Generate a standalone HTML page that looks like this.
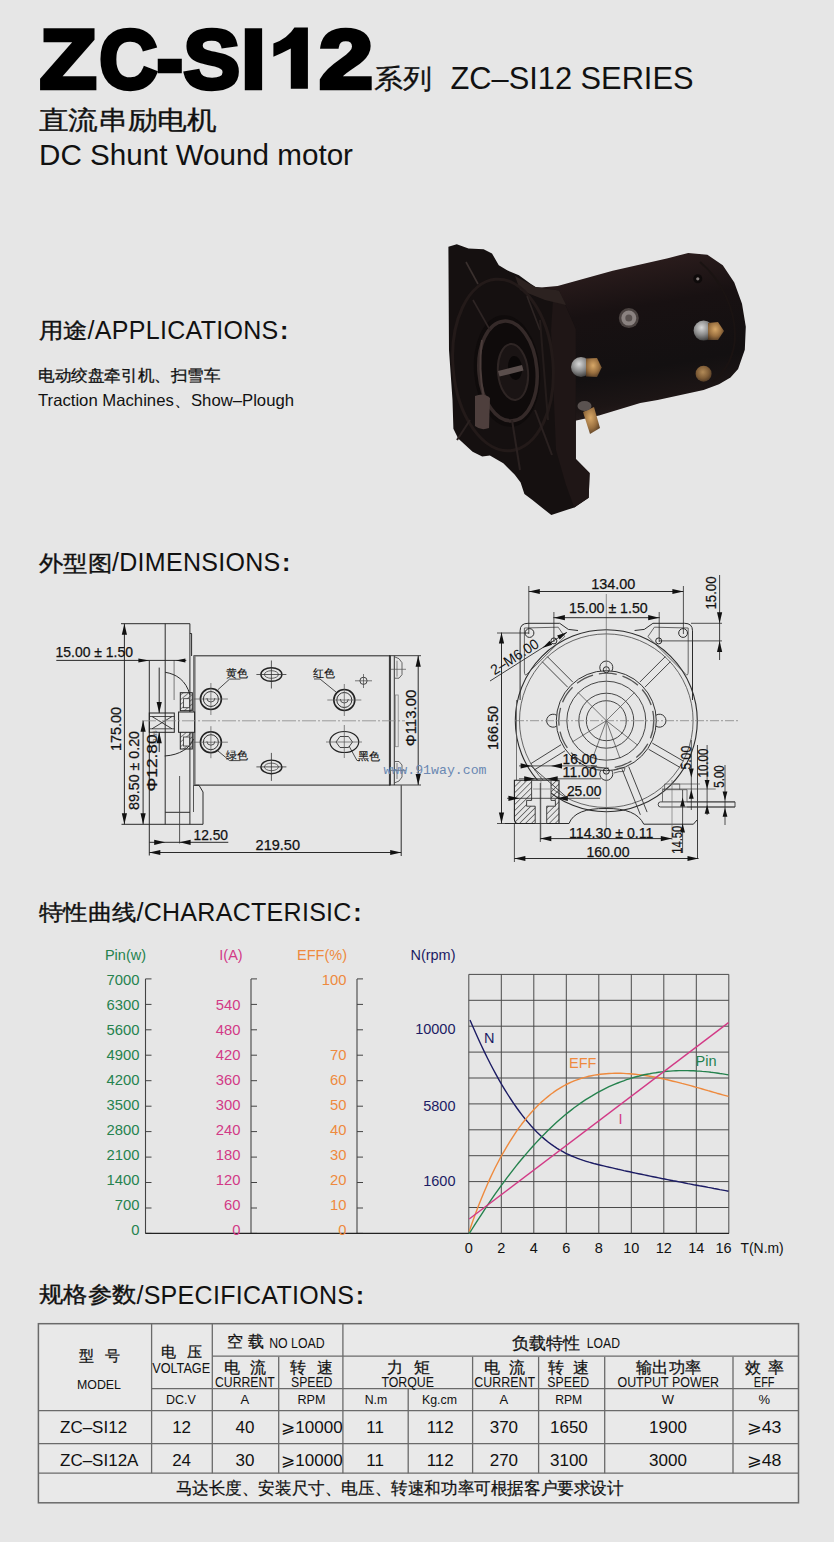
<!DOCTYPE html><html><head><meta charset="utf-8"><style>html,body{margin:0;padding:0;background:#e6e6e6;width:834px;height:1542px;overflow:hidden}svg{display:block}text{font-family:"Liberation Sans",sans-serif}</style></head><body>
<svg width="834" height="1542" viewBox="0 0 834 1542">
<text x="0" y="0" font-size="83" font-weight="bold" fill="#000" stroke="#000" stroke-width="4.4" stroke-linejoin="miter" transform="translate(39.70,87.6) scale(1.1216,1)">Z</text>
<text x="0" y="0" font-size="83" font-weight="bold" fill="#000" stroke="#000" stroke-width="4.4" stroke-linejoin="miter" transform="translate(99.13,87.6) scale(0.9695,1)">C</text>
<text x="0" y="0" font-size="83" font-weight="bold" fill="#000" stroke="#000" stroke-width="4.4" stroke-linejoin="miter" transform="translate(156.65,87.6) scale(0.9462,1)">-</text>
<text x="0" y="0" font-size="83" font-weight="bold" fill="#000" stroke="#000" stroke-width="4.4" stroke-linejoin="miter" transform="translate(183.40,87.6) scale(1.0204,1)">S</text>
<text x="0" y="0" font-size="83" font-weight="bold" fill="#000" stroke="#000" stroke-width="4.4" stroke-linejoin="miter" transform="translate(241.32,87.6) scale(1.0588,1)">I</text>
<text x="0" y="0" font-size="83" font-weight="bold" fill="#000" stroke="#000" stroke-width="4.4" stroke-linejoin="miter" transform="translate(318.93,87.6) scale(1.1705,1)">2</text>
<path d="M294.4,27.4 L307.9,27.4 L307.9,88.8 L290.8,88.8 L290.8,48.4 Q282,53 273.4,56.8 L273.4,43.6 Q288,38 294.4,27.4 Z" fill="#000"/>
<text x="374.0" y="87.8" font-size="27.0" fill="#111" text-anchor="start" textLength="58.0" lengthAdjust="spacingAndGlyphs" stroke="#111" stroke-width="0.3">系列</text>
<text x="450.5" y="89.4" font-size="31.0" fill="#111" text-anchor="start" textLength="243.0" lengthAdjust="spacingAndGlyphs" >ZC–SI12 SERIES</text>
<text x="38.5" y="129.0" font-size="25.5" fill="#111" text-anchor="start" textLength="178.0" lengthAdjust="spacingAndGlyphs" stroke="#111" stroke-width="0.35">直流串励电机</text>
<text x="39.0" y="165.0" font-size="29.5" fill="#111" text-anchor="start" textLength="314.0" lengthAdjust="spacingAndGlyphs" >DC Shunt Wound motor</text>
<text x="38.8" y="338.0" font-size="21.5" fill="#111" stroke="#111" stroke-width="0.35" textLength="48.8" lengthAdjust="spacingAndGlyphs">用途</text>
<text x="87.6" y="338.5" fill="#111"><tspan font-size="25" letter-spacing="0.3">/APPLICATIONS</tspan><tspan font-size="25" font-weight="bold" dx="1.5">:</tspan></text>
<text x="38.3" y="381.0" font-size="15.5" fill="#111" text-anchor="start" textLength="182.0" lengthAdjust="spacingAndGlyphs" stroke="#111" stroke-width="0.3">电动绞盘牵引机、扫雪车</text>
<text x="38.0" y="405.5" font-size="16.5" fill="#111" text-anchor="start" textLength="256.0" lengthAdjust="spacingAndGlyphs" >Traction Machines、Show–Plough</text>
<text x="38.8" y="570.9" font-size="21.5" fill="#111" stroke="#111" stroke-width="0.35" textLength="73.2" lengthAdjust="spacingAndGlyphs">外型图</text>
<text x="112.0" y="571.4" fill="#111"><tspan font-size="25" letter-spacing="0.3">/DIMENSIONS</tspan><tspan font-size="25" font-weight="bold" dx="1.5">:</tspan></text>
<text x="38.8" y="920.4" font-size="21.5" fill="#111" stroke="#111" stroke-width="0.35" textLength="97.6" lengthAdjust="spacingAndGlyphs">特性曲线</text>
<text x="136.4" y="920.9" fill="#111"><tspan font-size="25" letter-spacing="0.3">/CHARACTERISIC</tspan><tspan font-size="25" font-weight="bold" dx="1.5">:</tspan></text>
<text x="38.8" y="1302.3" font-size="21.5" fill="#111" stroke="#111" stroke-width="0.35" textLength="97.6" lengthAdjust="spacingAndGlyphs">规格参数</text>
<text x="136.4" y="1304.3" fill="#111"><tspan font-size="25" letter-spacing="0.3">/SPECIFICATIONS</tspan><tspan font-size="25" font-weight="bold" dx="1.5">:</tspan></text>
<line x1="145.5" y1="978.9" x2="145.5" y2="1233.4" stroke="#444" stroke-width="1.1"/>
<line x1="145.5" y1="1233.4" x2="151.5" y2="1233.4" stroke="#444" stroke-width="1"/>
<line x1="145.5" y1="1208.0" x2="151.5" y2="1208.0" stroke="#444" stroke-width="1"/>
<line x1="145.5" y1="1182.5" x2="151.5" y2="1182.5" stroke="#444" stroke-width="1"/>
<line x1="145.5" y1="1157.1" x2="151.5" y2="1157.1" stroke="#444" stroke-width="1"/>
<line x1="145.5" y1="1131.6" x2="151.5" y2="1131.6" stroke="#444" stroke-width="1"/>
<line x1="145.5" y1="1106.2" x2="151.5" y2="1106.2" stroke="#444" stroke-width="1"/>
<line x1="145.5" y1="1080.7" x2="151.5" y2="1080.7" stroke="#444" stroke-width="1"/>
<line x1="145.5" y1="1055.2" x2="151.5" y2="1055.2" stroke="#444" stroke-width="1"/>
<line x1="145.5" y1="1029.8" x2="151.5" y2="1029.8" stroke="#444" stroke-width="1"/>
<line x1="145.5" y1="1004.4" x2="151.5" y2="1004.4" stroke="#444" stroke-width="1"/>
<line x1="145.5" y1="978.9" x2="151.5" y2="978.9" stroke="#444" stroke-width="1"/>
<line x1="251.0" y1="978.9" x2="251.0" y2="1233.4" stroke="#444" stroke-width="1.1"/>
<line x1="251.0" y1="1233.4" x2="257.0" y2="1233.4" stroke="#444" stroke-width="1"/>
<line x1="251.0" y1="1208.0" x2="257.0" y2="1208.0" stroke="#444" stroke-width="1"/>
<line x1="251.0" y1="1182.5" x2="257.0" y2="1182.5" stroke="#444" stroke-width="1"/>
<line x1="251.0" y1="1157.1" x2="257.0" y2="1157.1" stroke="#444" stroke-width="1"/>
<line x1="251.0" y1="1131.6" x2="257.0" y2="1131.6" stroke="#444" stroke-width="1"/>
<line x1="251.0" y1="1106.2" x2="257.0" y2="1106.2" stroke="#444" stroke-width="1"/>
<line x1="251.0" y1="1080.7" x2="257.0" y2="1080.7" stroke="#444" stroke-width="1"/>
<line x1="251.0" y1="1055.2" x2="257.0" y2="1055.2" stroke="#444" stroke-width="1"/>
<line x1="251.0" y1="1029.8" x2="257.0" y2="1029.8" stroke="#444" stroke-width="1"/>
<line x1="251.0" y1="1004.4" x2="257.0" y2="1004.4" stroke="#444" stroke-width="1"/>
<line x1="251.0" y1="978.9" x2="257.0" y2="978.9" stroke="#444" stroke-width="1"/>
<line x1="357.0" y1="978.9" x2="357.0" y2="1233.4" stroke="#444" stroke-width="1.1"/>
<line x1="357.0" y1="1233.4" x2="363.0" y2="1233.4" stroke="#444" stroke-width="1"/>
<line x1="357.0" y1="1208.0" x2="363.0" y2="1208.0" stroke="#444" stroke-width="1"/>
<line x1="357.0" y1="1182.5" x2="363.0" y2="1182.5" stroke="#444" stroke-width="1"/>
<line x1="357.0" y1="1157.1" x2="363.0" y2="1157.1" stroke="#444" stroke-width="1"/>
<line x1="357.0" y1="1131.6" x2="363.0" y2="1131.6" stroke="#444" stroke-width="1"/>
<line x1="357.0" y1="1106.2" x2="363.0" y2="1106.2" stroke="#444" stroke-width="1"/>
<line x1="357.0" y1="1080.7" x2="363.0" y2="1080.7" stroke="#444" stroke-width="1"/>
<line x1="357.0" y1="1055.2" x2="363.0" y2="1055.2" stroke="#444" stroke-width="1"/>
<line x1="357.0" y1="1029.8" x2="363.0" y2="1029.8" stroke="#444" stroke-width="1"/>
<line x1="357.0" y1="1004.4" x2="363.0" y2="1004.4" stroke="#444" stroke-width="1"/>
<line x1="357.0" y1="978.9" x2="363.0" y2="978.9" stroke="#444" stroke-width="1"/>
<line x1="145.5" y1="1233.4" x2="729" y2="1233.4" stroke="#222" stroke-width="1.4"/>
<text x="139.5" y="1235.1" font-size="14.8" fill="#25824e" text-anchor="end" >0</text>
<text x="240.5" y="1235.1" font-size="14.8" fill="#d23a86" text-anchor="end" >0</text>
<text x="346.5" y="1235.1" font-size="14.8" fill="#ee8a3e" text-anchor="end" >0</text>
<text x="139.5" y="1210.1" font-size="14.8" fill="#25824e" text-anchor="end" >700</text>
<text x="240.5" y="1210.1" font-size="14.8" fill="#d23a86" text-anchor="end" >60</text>
<text x="346.5" y="1210.1" font-size="14.8" fill="#ee8a3e" text-anchor="end" >10</text>
<text x="139.5" y="1185.0" font-size="14.8" fill="#25824e" text-anchor="end" >1400</text>
<text x="240.5" y="1185.0" font-size="14.8" fill="#d23a86" text-anchor="end" >120</text>
<text x="346.5" y="1185.0" font-size="14.8" fill="#ee8a3e" text-anchor="end" >20</text>
<text x="139.5" y="1160.0" font-size="14.8" fill="#25824e" text-anchor="end" >2100</text>
<text x="240.5" y="1160.0" font-size="14.8" fill="#d23a86" text-anchor="end" >180</text>
<text x="346.5" y="1160.0" font-size="14.8" fill="#ee8a3e" text-anchor="end" >30</text>
<text x="139.5" y="1135.0" font-size="14.8" fill="#25824e" text-anchor="end" >2800</text>
<text x="240.5" y="1135.0" font-size="14.8" fill="#d23a86" text-anchor="end" >240</text>
<text x="346.5" y="1135.0" font-size="14.8" fill="#ee8a3e" text-anchor="end" >40</text>
<text x="139.5" y="1110.0" font-size="14.8" fill="#25824e" text-anchor="end" >3500</text>
<text x="240.5" y="1110.0" font-size="14.8" fill="#d23a86" text-anchor="end" >300</text>
<text x="346.5" y="1110.0" font-size="14.8" fill="#ee8a3e" text-anchor="end" >50</text>
<text x="139.5" y="1084.9" font-size="14.8" fill="#25824e" text-anchor="end" >4200</text>
<text x="240.5" y="1084.9" font-size="14.8" fill="#d23a86" text-anchor="end" >360</text>
<text x="346.5" y="1084.9" font-size="14.8" fill="#ee8a3e" text-anchor="end" >60</text>
<text x="139.5" y="1059.9" font-size="14.8" fill="#25824e" text-anchor="end" >4900</text>
<text x="240.5" y="1059.9" font-size="14.8" fill="#d23a86" text-anchor="end" >420</text>
<text x="346.5" y="1059.9" font-size="14.8" fill="#ee8a3e" text-anchor="end" >70</text>
<text x="139.5" y="1034.9" font-size="14.8" fill="#25824e" text-anchor="end" >5600</text>
<text x="240.5" y="1034.9" font-size="14.8" fill="#d23a86" text-anchor="end" >480</text>
<text x="346.5" y="1034.9" font-size="14.8" fill="#ee8a3e" text-anchor="end" ></text>
<text x="139.5" y="1009.8" font-size="14.8" fill="#25824e" text-anchor="end" >6300</text>
<text x="240.5" y="1009.8" font-size="14.8" fill="#d23a86" text-anchor="end" >540</text>
<text x="346.5" y="1009.8" font-size="14.8" fill="#ee8a3e" text-anchor="end" ></text>
<text x="139.5" y="984.8" font-size="14.8" fill="#25824e" text-anchor="end" >7000</text>
<text x="240.5" y="984.8" font-size="14.8" fill="#d23a86" text-anchor="end" ></text>
<text x="346.5" y="984.8" font-size="14.8" fill="#ee8a3e" text-anchor="end" >100</text>
<text x="125.5" y="959.5" font-size="14.5" fill="#25824e" text-anchor="middle" >Pin(w)</text>
<text x="231.0" y="959.5" font-size="14.5" fill="#d23a86" text-anchor="middle" >I(A)</text>
<text x="322.0" y="959.5" font-size="14.5" fill="#ee8a3e" text-anchor="middle" >EFF(%)</text>
<text x="433.0" y="959.5" font-size="14.5" fill="#1c1c64" text-anchor="middle" textLength="45.0" lengthAdjust="spacingAndGlyphs" >N(rpm)</text>
<text x="455.5" y="1034.4" font-size="14.5" fill="#1c1c64" text-anchor="end" >10000</text>
<text x="455.5" y="1110.5" font-size="14.5" fill="#1c1c64" text-anchor="end" >5800</text>
<text x="455.5" y="1186.0" font-size="14.5" fill="#1c1c64" text-anchor="end" >1600</text>
<line x1="468.8" y1="974.4" x2="468.8" y2="1233.4" stroke="#4a4a4a" stroke-width="1"/>
<text x="468.8" y="1253.0" font-size="14.5" fill="#111" text-anchor="middle" >0</text>
<line x1="501.3" y1="974.4" x2="501.3" y2="1233.4" stroke="#4a4a4a" stroke-width="1"/>
<text x="501.3" y="1253.0" font-size="14.5" fill="#111" text-anchor="middle" >2</text>
<line x1="533.8" y1="974.4" x2="533.8" y2="1233.4" stroke="#4a4a4a" stroke-width="1"/>
<text x="533.8" y="1253.0" font-size="14.5" fill="#111" text-anchor="middle" >4</text>
<line x1="566.3" y1="974.4" x2="566.3" y2="1233.4" stroke="#4a4a4a" stroke-width="1"/>
<text x="566.3" y="1253.0" font-size="14.5" fill="#111" text-anchor="middle" >6</text>
<line x1="598.8" y1="974.4" x2="598.8" y2="1233.4" stroke="#4a4a4a" stroke-width="1"/>
<text x="598.8" y="1253.0" font-size="14.5" fill="#111" text-anchor="middle" >8</text>
<line x1="631.3" y1="974.4" x2="631.3" y2="1233.4" stroke="#4a4a4a" stroke-width="1"/>
<text x="631.3" y="1253.0" font-size="14.5" fill="#111" text-anchor="middle" >10</text>
<line x1="663.8" y1="974.4" x2="663.8" y2="1233.4" stroke="#4a4a4a" stroke-width="1"/>
<text x="663.8" y="1253.0" font-size="14.5" fill="#111" text-anchor="middle" >12</text>
<line x1="696.3" y1="974.4" x2="696.3" y2="1233.4" stroke="#4a4a4a" stroke-width="1"/>
<text x="696.3" y="1253.0" font-size="14.5" fill="#111" text-anchor="middle" >14</text>
<line x1="728.8" y1="974.4" x2="728.8" y2="1233.4" stroke="#4a4a4a" stroke-width="1"/>
<text x="723.5" y="1253.0" font-size="14.5" fill="#111" text-anchor="middle" >16</text>
<line x1="468.8" y1="974.4" x2="728.8" y2="974.4" stroke="#4a4a4a" stroke-width="1"/>
<line x1="468.8" y1="1000.3" x2="728.8" y2="1000.3" stroke="#4a4a4a" stroke-width="1"/>
<line x1="468.8" y1="1026.2" x2="728.8" y2="1026.2" stroke="#4a4a4a" stroke-width="1"/>
<line x1="468.8" y1="1052.1" x2="728.8" y2="1052.1" stroke="#4a4a4a" stroke-width="1"/>
<line x1="468.8" y1="1078.0" x2="728.8" y2="1078.0" stroke="#4a4a4a" stroke-width="1"/>
<line x1="468.8" y1="1103.9" x2="728.8" y2="1103.9" stroke="#4a4a4a" stroke-width="1"/>
<line x1="468.8" y1="1129.8" x2="728.8" y2="1129.8" stroke="#4a4a4a" stroke-width="1"/>
<line x1="468.8" y1="1155.7" x2="728.8" y2="1155.7" stroke="#4a4a4a" stroke-width="1"/>
<line x1="468.8" y1="1181.6" x2="728.8" y2="1181.6" stroke="#4a4a4a" stroke-width="1"/>
<line x1="468.8" y1="1207.5" x2="728.8" y2="1207.5" stroke="#4a4a4a" stroke-width="1"/>
<text x="740.5" y="1253.0" font-size="14.5" fill="#111" text-anchor="start" textLength="43.2" lengthAdjust="spacingAndGlyphs" >T(N.m)</text>
<path d="M470.0,1020.0 L472.9,1026.8 L475.8,1033.3 L478.7,1039.8 L481.6,1046.0 L484.5,1052.1 L487.4,1058.0 L490.3,1063.7 L493.2,1069.3 L496.1,1074.7 L499.0,1079.9 L501.9,1084.9 L504.9,1089.8 L507.8,1094.5 L510.7,1099.0 L513.6,1103.3 L516.5,1107.5 L519.4,1111.5 L522.3,1115.3 L525.2,1119.0 L528.1,1122.4 L531.0,1125.8 L533.9,1128.9 L536.8,1131.9 L539.7,1134.7 L542.6,1137.4 L545.5,1139.9 L548.4,1142.2 L551.3,1144.4 L554.2,1146.4 L557.1,1148.3 L560.0,1150.1 L562.9,1151.7 L565.8,1153.3 L568.8,1154.7 L571.7,1156.0 L574.6,1157.2 L577.5,1158.3 L580.4,1159.4 L583.3,1160.4 L586.2,1161.3 L589.1,1162.2 L592.0,1163.0 L594.9,1163.8 L597.8,1164.5 L600.7,1165.2 L603.6,1165.9 L606.5,1166.6 L609.4,1167.3 L612.3,1167.9 L615.2,1168.6 L618.1,1169.3 L621.0,1169.9 L623.9,1170.6 L626.8,1171.2 L629.7,1171.8 L632.7,1172.5 L635.6,1173.1 L638.5,1173.7 L641.4,1174.3 L644.3,1174.9 L647.2,1175.5 L650.1,1176.1 L653.0,1176.7 L655.9,1177.3 L658.8,1177.9 L661.7,1178.5 L664.6,1179.0 L667.5,1179.6 L670.4,1180.2 L673.3,1180.8 L676.2,1181.3 L679.1,1181.9 L682.0,1182.4 L684.9,1183.0 L687.8,1183.6 L690.7,1184.1 L693.6,1184.7 L696.6,1185.2 L699.5,1185.8 L702.4,1186.3 L705.3,1186.8 L708.2,1187.4 L711.1,1187.9 L714.0,1188.5 L716.9,1189.0 L719.8,1189.6 L722.7,1190.1 L725.6,1190.6 L728.5,1191.2" fill="none" stroke="#1c1c64" stroke-width="1.4" stroke-linejoin="round"/>
<path d="M469.2,1231.6 L472.1,1223.1 L475.0,1214.9 L477.9,1207.2 L480.9,1199.7 L483.8,1192.7 L486.7,1185.9 L489.6,1179.4 L492.5,1173.2 L495.4,1167.3 L498.3,1161.7 L501.2,1156.2 L504.2,1151.1 L507.1,1146.1 L510.0,1141.3 L512.9,1136.8 L515.8,1132.4 L518.7,1128.2 L521.6,1124.3 L524.6,1120.5 L527.5,1116.9 L530.4,1113.5 L533.3,1110.3 L536.2,1107.2 L539.1,1104.3 L542.0,1101.6 L545.0,1099.0 L547.9,1096.6 L550.8,1094.3 L553.7,1092.2 L556.6,1090.2 L559.5,1088.3 L562.4,1086.6 L565.3,1085.0 L568.3,1083.5 L571.2,1082.2 L574.1,1080.9 L577.0,1079.8 L579.9,1078.8 L582.8,1077.9 L585.7,1077.1 L588.7,1076.3 L591.6,1075.7 L594.5,1075.1 L597.4,1074.7 L600.3,1074.3 L603.2,1074.0 L606.1,1073.7 L609.0,1073.5 L612.0,1073.4 L614.9,1073.3 L617.8,1073.3 L620.7,1073.3 L623.6,1073.4 L626.5,1073.6 L629.4,1073.8 L632.4,1074.0 L635.3,1074.3 L638.2,1074.6 L641.1,1075.0 L644.0,1075.4 L646.9,1075.8 L649.8,1076.3 L652.7,1076.8 L655.7,1077.3 L658.6,1077.9 L661.5,1078.5 L664.4,1079.1 L667.3,1079.8 L670.2,1080.5 L673.1,1081.2 L676.1,1081.9 L679.0,1082.6 L681.9,1083.4 L684.8,1084.1 L687.7,1084.9 L690.6,1085.7 L693.5,1086.5 L696.5,1087.4 L699.4,1088.2 L702.3,1089.0 L705.2,1089.8 L708.1,1090.7 L711.0,1091.5 L713.9,1092.3 L716.8,1093.2 L719.8,1094.0 L722.7,1094.8 L725.6,1095.6 L728.5,1096.4" fill="none" stroke="#ee8a3e" stroke-width="1.4" stroke-linejoin="round"/>
<path d="M469.2,1233.7 L472.1,1229.0 L475.0,1224.3 L477.9,1219.8 L480.9,1215.3 L483.8,1210.8 L486.7,1206.4 L489.6,1202.1 L492.5,1197.9 L495.4,1193.7 L498.3,1189.6 L501.2,1185.6 L504.2,1181.6 L507.1,1177.7 L510.0,1173.9 L512.9,1170.1 L515.8,1166.4 L518.7,1162.8 L521.6,1159.3 L524.6,1155.8 L527.5,1152.4 L530.4,1149.0 L533.3,1145.8 L536.2,1142.6 L539.1,1139.5 L542.0,1136.4 L545.0,1133.4 L547.9,1130.5 L550.8,1127.7 L553.7,1125.0 L556.6,1122.3 L559.5,1119.7 L562.4,1117.2 L565.3,1114.7 L568.3,1112.4 L571.2,1110.1 L574.1,1107.8 L577.0,1105.7 L579.9,1103.6 L582.8,1101.6 L585.7,1099.7 L588.7,1097.8 L591.6,1096.1 L594.5,1094.3 L597.4,1092.7 L600.3,1091.1 L603.2,1089.6 L606.1,1088.1 L609.0,1086.7 L612.0,1085.4 L614.9,1084.2 L617.8,1083.0 L620.7,1081.8 L623.6,1080.8 L626.5,1079.7 L629.4,1078.8 L632.4,1077.9 L635.3,1077.0 L638.2,1076.3 L641.1,1075.5 L644.0,1074.8 L646.9,1074.2 L649.8,1073.7 L652.7,1073.1 L655.7,1072.7 L658.6,1072.2 L661.5,1071.9 L664.4,1071.6 L667.3,1071.3 L670.2,1071.1 L673.1,1070.9 L676.1,1070.7 L679.0,1070.6 L681.9,1070.6 L684.8,1070.6 L687.7,1070.6 L690.6,1070.7 L693.5,1070.8 L696.5,1071.0 L699.4,1071.1 L702.3,1071.4 L705.2,1071.6 L708.1,1071.9 L711.0,1072.3 L713.9,1072.6 L716.8,1073.0 L719.8,1073.5 L722.7,1073.9 L725.6,1074.4 L728.5,1074.9" fill="none" stroke="#25824e" stroke-width="1.4" stroke-linejoin="round"/>
<line x1="469.2" y1="1219" x2="728.5" y2="1022.6" stroke="#d23a86" stroke-width="1.4"/>
<text x="484.0" y="1043.0" font-size="14.5" fill="#1c1c64" text-anchor="start" >N</text>
<text x="569.0" y="1068.0" font-size="14.5" fill="#ee8a3e" text-anchor="start" >EFF</text>
<text x="695.5" y="1066.2" font-size="14.5" fill="#25824e" text-anchor="start" >Pin</text>
<text x="618.5" y="1124.0" font-size="14.5" fill="#d23a86" text-anchor="start" >I</text>
<rect x="38.4" y="1323.7" width="760.1" height="179.1" fill="#e9e9e9" stroke="#6a6a6a" stroke-width="1.5"/>
<line x1="212.3" y1="1356.2" x2="798.5" y2="1356.2" stroke="#6a6a6a" stroke-width="1.3"/>
<line x1="151.6" y1="1388.6" x2="798.5" y2="1388.6" stroke="#6a6a6a" stroke-width="1.3"/>
<line x1="38.4" y1="1410.6" x2="798.5" y2="1410.6" stroke="#6a6a6a" stroke-width="1.3"/>
<line x1="38.4" y1="1443.6" x2="798.5" y2="1443.6" stroke="#6a6a6a" stroke-width="1.3"/>
<line x1="38.4" y1="1473.2" x2="798.5" y2="1473.2" stroke="#6a6a6a" stroke-width="1.3"/>
<line x1="151.6" y1="1323.7" x2="151.6" y2="1473.2" stroke="#6a6a6a" stroke-width="1.3"/>
<line x1="212.3" y1="1323.7" x2="212.3" y2="1473.2" stroke="#6a6a6a" stroke-width="1.3"/>
<line x1="342.9" y1="1323.7" x2="342.9" y2="1473.2" stroke="#6a6a6a" stroke-width="1.3"/>
<line x1="278.7" y1="1356.7" x2="278.7" y2="1473.2" stroke="#6a6a6a" stroke-width="1.3"/>
<line x1="472.6" y1="1356.7" x2="472.6" y2="1473.2" stroke="#6a6a6a" stroke-width="1.3"/>
<line x1="538.6" y1="1356.7" x2="538.6" y2="1473.2" stroke="#6a6a6a" stroke-width="1.3"/>
<line x1="604.7" y1="1356.7" x2="604.7" y2="1473.2" stroke="#6a6a6a" stroke-width="1.3"/>
<line x1="733.0" y1="1356.7" x2="733.0" y2="1473.2" stroke="#6a6a6a" stroke-width="1.3"/>
<line x1="408.2" y1="1388.6" x2="408.2" y2="1473.2" stroke="#6a6a6a" stroke-width="1.3"/>
<text x="86.6" y="1361.2" font-size="15.0" fill="#111" text-anchor="middle" stroke="#111" stroke-width="0.25">型</text>
<text x="112.5" y="1361.2" font-size="15.0" fill="#111" text-anchor="middle" stroke="#111" stroke-width="0.25">号</text>
<text x="99.0" y="1389.0" font-size="13.5" fill="#111" text-anchor="middle" textLength="44.0" lengthAdjust="spacingAndGlyphs" >MODEL</text>
<text x="168.6" y="1356.8" font-size="15.0" fill="#111" text-anchor="middle" stroke="#111" stroke-width="0.25">电</text>
<text x="194.5" y="1356.8" font-size="15.0" fill="#111" text-anchor="middle" stroke="#111" stroke-width="0.25">压</text>
<text x="181.2" y="1372.6" font-size="14.0" fill="#111" text-anchor="middle" textLength="58.0" lengthAdjust="spacingAndGlyphs" >VOLTAGE</text>
<text x="234.7" y="1346.8" font-size="15.5" fill="#111" text-anchor="middle" stroke="#111" stroke-width="0.25">空</text>
<text x="256.1" y="1346.8" font-size="15.5" fill="#111" text-anchor="middle" stroke="#111" stroke-width="0.25">载</text>
<text x="269.2" y="1348.0" font-size="14.0" fill="#111" text-anchor="start" textLength="55.5" lengthAdjust="spacingAndGlyphs" >NO LOAD</text>
<text x="232.3" y="1372.7" font-size="15.5" fill="#111" text-anchor="middle" stroke="#111" stroke-width="0.25">电</text>
<text x="257.8" y="1372.7" font-size="15.5" fill="#111" text-anchor="middle" stroke="#111" stroke-width="0.25">流</text>
<text x="244.9" y="1386.8" font-size="14.0" fill="#111" text-anchor="middle" textLength="59.8" lengthAdjust="spacingAndGlyphs" >CURRENT</text>
<text x="298.2" y="1372.7" font-size="15.5" fill="#111" text-anchor="middle" stroke="#111" stroke-width="0.25">转</text>
<text x="324.5" y="1372.7" font-size="15.5" fill="#111" text-anchor="middle" stroke="#111" stroke-width="0.25">速</text>
<text x="311.7" y="1386.8" font-size="14.0" fill="#111" text-anchor="middle" textLength="41.4" lengthAdjust="spacingAndGlyphs" >SPEED</text>
<text x="181.0" y="1404.0" font-size="13.0" fill="#111" text-anchor="middle" textLength="29.8" lengthAdjust="spacingAndGlyphs" >DC.V</text>
<text x="244.9" y="1404.0" font-size="13.0" fill="#111" text-anchor="middle" >A</text>
<text x="311.5" y="1404.0" font-size="13.0" fill="#111" text-anchor="middle" textLength="28.0" lengthAdjust="spacingAndGlyphs" >RPM</text>
<text x="512.0" y="1348.5" font-size="17.0" fill="#111" text-anchor="start" textLength="68.0" lengthAdjust="spacingAndGlyphs" stroke="#111" stroke-width="0.25">负载特性</text>
<text x="586.8" y="1348.0" font-size="14.5" fill="#111" text-anchor="start" textLength="33.2" lengthAdjust="spacingAndGlyphs" >LOAD</text>
<text x="394.8" y="1372.7" font-size="15.5" fill="#111" text-anchor="middle" stroke="#111" stroke-width="0.25">力</text>
<text x="421.7" y="1372.7" font-size="15.5" fill="#111" text-anchor="middle" stroke="#111" stroke-width="0.25">矩</text>
<text x="407.7" y="1387.2" font-size="14.0" fill="#111" text-anchor="middle" textLength="52.6" lengthAdjust="spacingAndGlyphs" >TORQUE</text>
<text x="376.0" y="1404.4" font-size="13.0" fill="#111" text-anchor="middle" textLength="22.6" lengthAdjust="spacingAndGlyphs" >N.m</text>
<text x="439.5" y="1404.4" font-size="13.0" fill="#111" text-anchor="middle" textLength="35.0" lengthAdjust="spacingAndGlyphs" >Kg.cm</text>
<text x="492.2" y="1372.6" font-size="15.5" fill="#111" text-anchor="middle" stroke="#111" stroke-width="0.25">电</text>
<text x="517.4" y="1372.6" font-size="15.5" fill="#111" text-anchor="middle" stroke="#111" stroke-width="0.25">流</text>
<text x="504.7" y="1386.8" font-size="14.0" fill="#111" text-anchor="middle" textLength="60.8" lengthAdjust="spacingAndGlyphs" >CURRENT</text>
<text x="503.9" y="1404.4" font-size="13.0" fill="#111" text-anchor="middle" >A</text>
<text x="555.6" y="1372.6" font-size="15.5" fill="#111" text-anchor="middle" stroke="#111" stroke-width="0.25">转</text>
<text x="581.3" y="1372.6" font-size="15.5" fill="#111" text-anchor="middle" stroke="#111" stroke-width="0.25">速</text>
<text x="568.2" y="1386.8" font-size="14.0" fill="#111" text-anchor="middle" textLength="41.7" lengthAdjust="spacingAndGlyphs" >SPEED</text>
<text x="568.7" y="1404.4" font-size="13.0" fill="#111" text-anchor="middle" textLength="27.0" lengthAdjust="spacingAndGlyphs" >RPM</text>
<text x="668.7" y="1373.0" font-size="16.0" fill="#111" text-anchor="middle" textLength="65.0" lengthAdjust="spacingAndGlyphs" stroke="#111" stroke-width="0.25">输出功率</text>
<text x="668.2" y="1387.0" font-size="14.0" fill="#111" text-anchor="middle" textLength="101.5" lengthAdjust="spacingAndGlyphs" >OUTPUT POWER</text>
<text x="668.0" y="1404.4" font-size="13.0" fill="#111" text-anchor="middle" >W</text>
<text x="752.5" y="1372.6" font-size="15.5" fill="#111" text-anchor="middle" stroke="#111" stroke-width="0.25">效</text>
<text x="776.0" y="1372.6" font-size="15.5" fill="#111" text-anchor="middle" stroke="#111" stroke-width="0.25">率</text>
<text x="764.2" y="1387.0" font-size="14.0" fill="#111" text-anchor="middle" textLength="20.8" lengthAdjust="spacingAndGlyphs" >EFF</text>
<text x="764.2" y="1404.4" font-size="13.0" fill="#111" text-anchor="middle" >%</text>
<text x="60.0" y="1432.5" font-size="17.0" fill="#111" text-anchor="start" >ZC–SI12</text>
<text x="181.6" y="1432.5" font-size="17.0" fill="#111" text-anchor="middle" >12</text>
<text x="244.9" y="1432.5" font-size="17.0" fill="#111" text-anchor="middle" >40</text>
<text x="312.0" y="1432.5" font-size="17.0" fill="#111" text-anchor="middle" textLength="61.4" lengthAdjust="spacingAndGlyphs" >⩾10000</text>
<text x="375.2" y="1432.5" font-size="17.0" fill="#111" text-anchor="middle" >11</text>
<text x="440.2" y="1432.5" font-size="17.0" fill="#111" text-anchor="middle" >112</text>
<text x="503.9" y="1432.5" font-size="17.0" fill="#111" text-anchor="middle" >370</text>
<text x="568.9" y="1432.5" font-size="17.0" fill="#111" text-anchor="middle" >1650</text>
<text x="668.0" y="1432.5" font-size="17.0" fill="#111" text-anchor="middle" >1900</text>
<text x="764.2" y="1432.5" font-size="17.0" fill="#111" text-anchor="middle" textLength="34.4" lengthAdjust="spacingAndGlyphs" >⩾43</text>
<text x="60.0" y="1465.5" font-size="17.0" fill="#111" text-anchor="start" >ZC–SI12A</text>
<text x="181.6" y="1465.5" font-size="17.0" fill="#111" text-anchor="middle" >24</text>
<text x="244.9" y="1465.5" font-size="17.0" fill="#111" text-anchor="middle" >30</text>
<text x="312.0" y="1465.5" font-size="17.0" fill="#111" text-anchor="middle" textLength="61.4" lengthAdjust="spacingAndGlyphs" >⩾10000</text>
<text x="375.2" y="1465.5" font-size="17.0" fill="#111" text-anchor="middle" >11</text>
<text x="440.2" y="1465.5" font-size="17.0" fill="#111" text-anchor="middle" >112</text>
<text x="503.9" y="1465.5" font-size="17.0" fill="#111" text-anchor="middle" >270</text>
<text x="568.9" y="1465.5" font-size="17.0" fill="#111" text-anchor="middle" >3100</text>
<text x="668.0" y="1465.5" font-size="17.0" fill="#111" text-anchor="middle" >3000</text>
<text x="764.2" y="1465.5" font-size="17.0" fill="#111" text-anchor="middle" textLength="34.4" lengthAdjust="spacingAndGlyphs" >⩾48</text>
<text x="175.5" y="1494.3" font-size="17.0" fill="#111" text-anchor="start" textLength="448.0" lengthAdjust="spacingAndGlyphs" stroke="#111" stroke-width="0.25">马达长度、安装尺寸、电压、转速和功率可根据客户要求设计</text>
<line x1="121.0" y1="623.7" x2="189.9" y2="623.7" stroke="#2a2a2a" stroke-width="1.00" />
<line x1="121.5" y1="824.3" x2="203.0" y2="824.3" stroke="#2a2a2a" stroke-width="1.00" />
<line x1="165.2" y1="623.7" x2="165.2" y2="824.3" stroke="#2a2a2a" stroke-width="1.00" />
<line x1="189.9" y1="623.7" x2="189.9" y2="824.3" stroke="#2a2a2a" stroke-width="1.00" />
<line x1="191.6" y1="633.5" x2="191.6" y2="656.0" stroke="#2a2a2a" stroke-width="1.00" />
<line x1="189.9" y1="633.5" x2="191.6" y2="633.5" stroke="#2a2a2a" stroke-width="1.00" />
<line x1="149.3" y1="660.4" x2="149.3" y2="855.5" stroke="#2a2a2a" stroke-width="1.00" />
<line x1="174.1" y1="660.0" x2="174.1" y2="700.0" stroke="#777" stroke-width="1.00" />
<rect x="194" y="655.8" width="195.9" height="129.3" fill="none" stroke="#333" stroke-width="1.1"/>
<line x1="194.3" y1="655.8" x2="194.3" y2="785.1" stroke="#777" stroke-width="2.60" />
<line x1="389.9" y1="655.8" x2="389.9" y2="785.1" stroke="#3a3a3a" stroke-width="2.00" />
<line x1="394.3" y1="655.8" x2="394.3" y2="785.1" stroke="#333" stroke-width="1.00" />
<path d="M394.3,656.7 L399,658.7 L402,662.7 L402,674.7 L399,678.2 L394.3,678.2" fill="none" stroke="#555" stroke-width="0.9"/>
<line x1="397.0" y1="660.7" x2="397.0" y2="676.7" stroke="#666" stroke-width="0.80" />
<line x1="391.0" y1="669.3" x2="406.0" y2="669.3" stroke="#555" stroke-width="0.70" />
<path d="M394.3,783.0 L399,781.0 L402,777.0 L402,765.0 L399,761.5 L394.3,761.5" fill="none" stroke="#555" stroke-width="0.9"/>
<line x1="397.0" y1="779.0" x2="397.0" y2="763.0" stroke="#666" stroke-width="0.80" />
<line x1="391.0" y1="770.4" x2="406.0" y2="770.4" stroke="#555" stroke-width="0.70" />
<rect x="395.3" y="695" width="2.9" height="51.7" fill="none" stroke="#888" stroke-width="0.8"/>
<path d="M194.3,785.3 L199,785.3 L203,792 L203,824.3" fill="none" stroke="#2a2a2a" stroke-width="1"/>
<line x1="193.5" y1="785.0" x2="193.5" y2="812.0" stroke="#555" stroke-width="1.00" />
<line x1="165.2" y1="812.3" x2="189.9" y2="812.3" stroke="#2a2a2a" stroke-width="1.00" />
<line x1="179.6" y1="776.0" x2="179.6" y2="843.5" stroke="#444" stroke-width="0.90" />
<path d="M165.2,672.3 C176,674 186,680 190,695" fill="none" stroke="#2a2a2a" stroke-width="1"/>
<path d="M193.5,739 C190,748 180,755 164.7,756" fill="none" stroke="#2a2a2a" stroke-width="1"/>
<defs><pattern id="hatch2" width="3.6" height="3.6" patternUnits="userSpaceOnUse" patternTransform="rotate(50)"><line x1="0" y1="0" x2="0" y2="3.6" stroke="#222" stroke-width="1"/></pattern></defs>
<rect x="180.3" y="692.7" width="12" height="18.0" fill="url(#hatch2)" stroke="#222" stroke-width="1"/>
<rect x="183.5" y="698.7" width="6" height="9.0" fill="#e6e6e6" stroke="#333" stroke-width="0.8"/>
<rect x="180.3" y="731.0" width="12" height="18.0" fill="url(#hatch2)" stroke="#222" stroke-width="1"/>
<rect x="183.5" y="737.0" width="6" height="9.0" fill="#e6e6e6" stroke="#333" stroke-width="0.8"/>
<rect x="178.6" y="712" width="16" height="20.3" fill="#e6e6e6" stroke="#222" stroke-width="1"/>
<rect x="149.3" y="713" width="25" height="19.3" fill="none" stroke="#222" stroke-width="1"/>
<line x1="149.3" y1="716.5" x2="174.3" y2="716.5" stroke="#2a2a2a" stroke-width="0.80" />
<line x1="149.3" y1="728.8" x2="174.3" y2="728.8" stroke="#2a2a2a" stroke-width="0.80" />
<line x1="152.0" y1="716.5" x2="172.0" y2="728.8" stroke="#2a2a2a" stroke-width="0.90" />
<line x1="152.0" y1="728.8" x2="172.0" y2="716.5" stroke="#2a2a2a" stroke-width="0.90" />
<line x1="142.0" y1="720.8" x2="405.0" y2="720.8" stroke="#888" stroke-width="0.80" stroke-dasharray="14,2,2,2"/>
<line x1="124.4" y1="623.7" x2="124.4" y2="824.3" stroke="#2a2a2a" stroke-width="1.00" />
<path d="M124.4,623.7 L127.0,634.7 L121.8,634.7 Z" fill="#111"/>
<path d="M124.4,824.3 L121.8,813.3 L127.0,813.3 Z" fill="#111"/>
<text x="0" y="0" font-size="15.0" fill="#111" stroke="#111" stroke-width="0.25" text-anchor="middle" textLength="44.0" lengthAdjust="spacingAndGlyphs" transform="translate(121.0,729.0) rotate(-90.0)">175.00</text>
<line x1="143.1" y1="720.8" x2="143.1" y2="824.3" stroke="#2a2a2a" stroke-width="1.00" />
<path d="M143.1,720.8 L145.7,731.8 L140.5,731.8 Z" fill="#111"/>
<path d="M143.1,824.3 L140.5,813.3 L145.7,813.3 Z" fill="#111"/>
<text x="0" y="0" font-size="15.0" fill="#111" stroke="#111" stroke-width="0.25" text-anchor="middle" textLength="79.0" lengthAdjust="spacingAndGlyphs" transform="translate(139.2,770.5) rotate(-90.0)">89.50 ± 0.20</text>
<line x1="159.2" y1="667.6" x2="159.2" y2="713.0" stroke="#2a2a2a" stroke-width="1.00" />
<path d="M159.2,713.0 L156.6,702.0 L161.8,702.0 Z" fill="#111"/>
<line x1="159.2" y1="732.3" x2="159.2" y2="752.0" stroke="#2a2a2a" stroke-width="1.00" />
<path d="M159.2,732.3 L161.8,743.3 L156.6,743.3 Z" fill="#111"/>
<text x="0" y="0" font-size="14.5" fill="#111" stroke="#111" stroke-width="0.25" text-anchor="middle" textLength="57.0" lengthAdjust="spacingAndGlyphs" transform="translate(156.8,763.0) rotate(-90.0)">Φ12.80</text>
<text x="0" y="0" font-size="6" fill="#444" transform="translate(157,744) rotate(-90)">-0.05</text>
<line x1="56.3" y1="660.4" x2="186.3" y2="660.4" stroke="#2a2a2a" stroke-width="1.00" />
<path d="M138.4,658.4 L138.4,662.4 L149.3,660.4 Z" fill="#111"/>
<path d="M185.4,658.4 L185.4,662.4 L175.8,660.4 Z" fill="#111"/>
<text x="55.6" y="656.8" font-size="14.5" fill="#111" text-anchor="start" textLength="77.4" lengthAdjust="spacingAndGlyphs" stroke="#111" stroke-width="0.25">15.00 ± 1.50</text>
<line x1="149.3" y1="842.3" x2="228.3" y2="842.3" stroke="#2a2a2a" stroke-width="1.00" />
<path d="M165.2,842.3 L154.2,844.9 L154.2,839.7 Z" fill="#111"/>
<path d="M179.6,842.3 L190.6,839.7 L190.6,844.9 Z" fill="#111"/>
<text x="193.5" y="840.0" font-size="14.5" fill="#111" text-anchor="start" textLength="34.5" lengthAdjust="spacingAndGlyphs" stroke="#111" stroke-width="0.25">12.50</text>
<line x1="149.3" y1="852.5" x2="401.2" y2="852.5" stroke="#2a2a2a" stroke-width="1.00" />
<path d="M149.3,852.5 L160.3,849.9 L160.3,855.1 Z" fill="#111"/>
<path d="M401.2,852.5 L390.2,855.1 L390.2,849.9 Z" fill="#111"/>
<line x1="401.2" y1="785.3" x2="401.2" y2="856.0" stroke="#2a2a2a" stroke-width="1.00" />
<text x="255.6" y="850.0" font-size="14.5" fill="#111" text-anchor="start" textLength="44.4" lengthAdjust="spacingAndGlyphs" stroke="#111" stroke-width="0.25">219.50</text>
<line x1="418.2" y1="655.7" x2="418.2" y2="785.0" stroke="#2a2a2a" stroke-width="1.00" />
<path d="M418.2,655.7 L420.8,666.7 L415.6,666.7 Z" fill="#111"/>
<path d="M418.2,785.0 L415.6,774.0 L420.8,774.0 Z" fill="#111"/>
<line x1="389.0" y1="655.7" x2="421.0" y2="655.7" stroke="#2a2a2a" stroke-width="0.90" />
<line x1="389.0" y1="785.0" x2="421.0" y2="785.0" stroke="#2a2a2a" stroke-width="0.90" />
<text x="0" y="0" font-size="15.5" fill="#111" stroke="#111" stroke-width="0.25" text-anchor="middle" textLength="56.5" lengthAdjust="spacingAndGlyphs" transform="translate(415.8,718.0) rotate(-90.0)">Φ113.00</text>
<circle cx="210.9" cy="699.0" r="10.5" fill="none" stroke="#222" stroke-width="1.6"/>
<circle cx="210.9" cy="699.0" r="7.5" fill="none" stroke="#333" stroke-width="1"/>
<path d="M206.9,698.0 a4,4 0 0 0 8,0" fill="none" stroke="#444" stroke-width="0.9"/>
<line x1="193.9" y1="699.0" x2="227.9" y2="699.0" stroke="#555" stroke-width="0.70" />
<line x1="210.9" y1="683.0" x2="210.9" y2="715.0" stroke="#555" stroke-width="0.70" />
<circle cx="210.9" cy="742.2" r="10.5" fill="none" stroke="#222" stroke-width="1.6"/>
<circle cx="210.9" cy="742.2" r="7.5" fill="none" stroke="#333" stroke-width="1"/>
<path d="M206.9,741.2 a4,4 0 0 0 8,0" fill="none" stroke="#444" stroke-width="0.9"/>
<line x1="193.9" y1="742.2" x2="227.9" y2="742.2" stroke="#555" stroke-width="0.70" />
<line x1="210.9" y1="726.2" x2="210.9" y2="758.2" stroke="#555" stroke-width="0.70" />
<circle cx="344.3" cy="700.0" r="10.5" fill="none" stroke="#222" stroke-width="1.6"/>
<circle cx="344.3" cy="700.0" r="7.5" fill="none" stroke="#333" stroke-width="1"/>
<path d="M340.3,699.0 a4,4 0 0 0 8,0" fill="none" stroke="#444" stroke-width="0.9"/>
<line x1="327.3" y1="700.0" x2="361.3" y2="700.0" stroke="#555" stroke-width="0.70" />
<line x1="344.3" y1="684.0" x2="344.3" y2="716.0" stroke="#555" stroke-width="0.70" />
<ellipse cx="271.4" cy="674.5" rx="10.5" ry="6.8" fill="none" stroke="#222" stroke-width="1.4"/>
<ellipse cx="271.4" cy="674.5" rx="7.0" ry="3.8" fill="none" stroke="#444" stroke-width="0.8"/>
<line x1="256.4" y1="674.5" x2="286.4" y2="674.5" stroke="#333" stroke-width="0.80" />
<line x1="271.4" y1="660.5" x2="271.4" y2="688.5" stroke="#333" stroke-width="0.80" />
<ellipse cx="271.4" cy="766.9" rx="10.5" ry="6.8" fill="none" stroke="#222" stroke-width="1.4"/>
<ellipse cx="271.4" cy="766.9" rx="7.0" ry="3.8" fill="none" stroke="#444" stroke-width="0.8"/>
<line x1="256.4" y1="766.9" x2="286.4" y2="766.9" stroke="#333" stroke-width="0.80" />
<line x1="271.4" y1="752.9" x2="271.4" y2="780.9" stroke="#333" stroke-width="0.80" />
<ellipse cx="344.3" cy="742" rx="14.4" ry="10.5" fill="none" stroke="#222" stroke-width="1.2"/>
<path d="M336,742 L340,736.5 L348.5,736.5 L352.5,742 L348.5,747.5 L340,747.5 Z" fill="none" stroke="#333" stroke-width="0.9"/>
<line x1="326.0" y1="742.0" x2="362.0" y2="742.0" stroke="#555" stroke-width="0.70" />
<line x1="344.3" y1="725.0" x2="344.3" y2="758.0" stroke="#555" stroke-width="0.70" />
<circle cx="363.5" cy="680.8" r="3.6" fill="none" stroke="#333" stroke-width="0.9"/>
<line x1="355.0" y1="680.8" x2="372.0" y2="680.8" stroke="#444" stroke-width="0.70" />
<line x1="363.5" y1="674.0" x2="363.5" y2="688.0" stroke="#444" stroke-width="0.70" />
<text x="237.0" y="676.5" font-size="11.0" fill="#111" text-anchor="middle" stroke="#111" stroke-width="0.15">黄色</text>
<path d="M240.4,679.1 L229.6,679.1 L218,689.6" fill="none" stroke="#222" stroke-width="0.8"/>
<text x="237.0" y="759.0" font-size="11.0" fill="#111" text-anchor="middle" stroke="#111" stroke-width="0.15">绿色</text>
<path d="M218,751 L229.6,760.6 L240.4,760.6" fill="none" stroke="#222" stroke-width="0.8"/>
<text x="324.0" y="676.5" font-size="11.0" fill="#111" text-anchor="middle" stroke="#111" stroke-width="0.15">红色</text>
<path d="M314,679 L320,679 L336,692" fill="none" stroke="#222" stroke-width="0.8"/>
<text x="368.5" y="759.5" font-size="11.0" fill="#111" text-anchor="middle" stroke="#111" stroke-width="0.15">黑色</text>
<path d="M349,746 L357,760.5 L360,760.5" fill="none" stroke="#222" stroke-width="0.8"/>
<text x="383.5" y="774.4" style="font-family:'Liberation Mono',monospace" font-size="13" fill="#6a88b2" textLength="103" lengthAdjust="spacingAndGlyphs">www.91way.com</text>
<circle cx="606.3" cy="720.7" r="91.0" fill="none" stroke="#2c2c2c" stroke-width="1.1"/>
<circle cx="606.3" cy="720.7" r="86.8" fill="none" stroke="#444" stroke-width="0.8"/>
<path d="M520.1,700 L520.1,630.8 Q520.1,623.3 528.0,623.3 L559.7,623.3 L568.3,629.4 L578.0,630.5" fill="none" stroke="#2c2c2c" stroke-width="1.00" />
<path d="M524.4,628 L558.2,627.2 L564.7,636.6 L527.0,674 Q524.4,677 524.4,671 Z" fill="none" stroke="#444" stroke-width="0.80" />
<circle cx="529.5" cy="633" r="4.4" fill="none" stroke="#2c2c2c" stroke-width="1"/>
<circle cx="553.9" cy="640.9" r="3" fill="none" stroke="#2c2c2c" stroke-width="1"/>
<path d="M692.5,700 L692.5,630.8 Q692.5,623.3 684.6,623.3 L652.9,623.3 L644.3,629.4 L634.6,630.5" fill="none" stroke="#2c2c2c" stroke-width="1.00" />
<path d="M688.2,628 L654.4,627.2 L647.9,636.6 L685.6,674 Q688.2,677 688.2,671 Z" fill="none" stroke="#444" stroke-width="0.80" />
<circle cx="683.1" cy="633" r="4.4" fill="none" stroke="#2c2c2c" stroke-width="1"/>
<circle cx="658.7" cy="640.9" r="3" fill="none" stroke="#2c2c2c" stroke-width="1"/>
<line x1="567.7" y1="687.2" x2="542.2" y2="661.7" stroke="#333" stroke-width="0.90" />
<line x1="572.8" y1="682.1" x2="547.3" y2="656.6" stroke="#333" stroke-width="0.90" />
<line x1="639.8" y1="682.1" x2="665.3" y2="656.6" stroke="#333" stroke-width="0.90" />
<line x1="644.9" y1="687.2" x2="670.4" y2="661.7" stroke="#333" stroke-width="0.90" />
<line x1="565.0" y1="750.8" x2="534.4" y2="769.9" stroke="#333" stroke-width="0.90" />
<line x1="561.1" y1="744.7" x2="530.6" y2="763.8" stroke="#333" stroke-width="0.90" />
<line x1="652.3" y1="743.1" x2="683.4" y2="761.1" stroke="#333" stroke-width="0.90" />
<line x1="648.7" y1="749.3" x2="679.8" y2="767.3" stroke="#333" stroke-width="0.90" />
<line x1="628.7" y1="766.6" x2="647.1" y2="812.1" stroke="#333" stroke-width="0.90" />
<line x1="622.1" y1="769.3" x2="640.4" y2="814.8" stroke="#333" stroke-width="0.90" />
<circle cx="606.3" cy="720.7" r="50" fill="none" stroke="#333" stroke-width="1"/>
<circle cx="606.3" cy="720.7" r="47.5" fill="none" stroke="#555" stroke-width="1.3" stroke-dasharray="18,6"/>
<path d="M656.0,726.2 A6.5,6.5 0 1 0 656.0,715.2" fill="none" stroke="#333" stroke-width="1"/>
<path d="M611.8,671.0 A6.5,6.5 0 1 0 600.8,671.0" fill="none" stroke="#333" stroke-width="1"/>
<path d="M556.6,715.2 A6.5,6.5 0 1 0 556.6,726.2" fill="none" stroke="#333" stroke-width="1"/>
<path d="M600.8,770.4 A6.5,6.5 0 1 0 611.8,770.4" fill="none" stroke="#333" stroke-width="1"/>
<circle cx="606.3" cy="669.7" r="3" fill="none" stroke="#222" stroke-width="1"/>
<circle cx="606.3" cy="771.2" r="3" fill="none" stroke="#222" stroke-width="1"/>
<path d="M614,770 Q619,767 625,768 L624,771.5 Q619,771 614,773" fill="none" stroke="#444" stroke-width="0.80" />
<circle cx="606.3" cy="720.7" r="39.5" fill="none" stroke="#333" stroke-width="0.9"/>
<circle cx="606.3" cy="720.7" r="27.5" fill="none" stroke="#333" stroke-width="0.9"/>
<circle cx="606.3" cy="720.7" r="20.0" fill="none" stroke="#333" stroke-width="0.9"/>
<line x1="606.3" y1="720.7" x2="578.0" y2="692.4" stroke="#444" stroke-width="0.70" />
<line x1="606.3" y1="720.7" x2="634.6" y2="692.4" stroke="#444" stroke-width="0.70" />
<line x1="606.3" y1="720.7" x2="572.4" y2="741.9" stroke="#444" stroke-width="0.70" />
<line x1="606.3" y1="720.7" x2="592.6" y2="758.3" stroke="#444" stroke-width="0.70" />
<line x1="606.3" y1="720.7" x2="620.0" y2="758.3" stroke="#444" stroke-width="0.70" />
<line x1="606.3" y1="720.7" x2="637.8" y2="745.3" stroke="#444" stroke-width="0.70" />
<line x1="515.0" y1="720.7" x2="740.0" y2="720.7" stroke="#777" stroke-width="0.70" stroke-dasharray="9,2,2,2"/>
<line x1="606.3" y1="594.0" x2="606.3" y2="828.0" stroke="#666" stroke-width="0.70" />
<path d="M505,823.5 L569,823.5 Q575,808 606,808.5 Q636,808 643.8,824.2 L693.4,824.2 L697,820" fill="none" stroke="#2c2c2c" stroke-width="1.00" />
<line x1="516.5" y1="700.0" x2="516.5" y2="780.0" stroke="#555" stroke-width="0.80" />
<line x1="697.5" y1="745.0" x2="697.5" y2="858.0" stroke="#2a2a2a" stroke-width="0.90" />
<defs><pattern id="hatch" width="4.2" height="4.2" patternUnits="userSpaceOnUse" patternTransform="rotate(45)"><line x1="0" y1="0" x2="0" y2="4.2" stroke="#222" stroke-width="1.1"/></pattern></defs>
<path d="M514.4,780.3 L559,780.3 L559,823.5 L518,823.5 Q514.4,823.5 514.4,819 Z" fill="url(#hatch)" stroke="#222" stroke-width="1.10" />
<path d="M531.6,780.3 L551,780.3 L551,800.4 L555.4,800.4 L555.4,806.2 L546.7,806.2 L546.7,823.5 L535.2,823.5 L535.2,806.2 L526.6,806.2 L526.6,800.4 L531.6,800.4 Z" fill="#e6e6e6" stroke="#333" stroke-width="0.90" />
<line x1="533.0" y1="789.0" x2="550.0" y2="789.0" stroke="#666" stroke-width="0.60" />
<line x1="540.9" y1="776.0" x2="540.9" y2="840.0" stroke="#666" stroke-width="0.60" />
<path d="M660.5,801.9 L735,801.9 L735,807 L660.5,807 Q658.2,807 658.2,804.5 Q658.2,801.9 660.5,801.9 Z" fill="none" stroke="#333" stroke-width="0.90" />
<path d="M662.5,802 L662.5,789.7 L687,789.7 L687,802" fill="none" stroke="#555" stroke-width="0.80" />
<path d="M664.6,789.7 L664.6,784 L679.7,784 L679.7,789.7" fill="none" stroke="#555" stroke-width="0.80" />
<line x1="672.0" y1="780.0" x2="672.0" y2="840.0" stroke="#666" stroke-width="0.60" />
<line x1="672.6" y1="784.0" x2="700.0" y2="784.0" stroke="#555" stroke-width="0.70" />
<line x1="662.0" y1="789.0" x2="715.7" y2="789.0" stroke="#444" stroke-width="0.70" />
<line x1="687.0" y1="801.9" x2="735.0" y2="801.9" stroke="#444" stroke-width="0.70" />
<line x1="687.0" y1="807.0" x2="735.0" y2="807.0" stroke="#444" stroke-width="0.70" />
<line x1="528.8" y1="591.5" x2="683.4" y2="591.5" stroke="#2a2a2a" stroke-width="1.00" />
<path d="M528.8,591.5 L539.8,588.9 L539.8,594.1 Z" fill="#111"/>
<path d="M683.4,591.5 L672.4,594.1 L672.4,588.9 Z" fill="#111"/>
<line x1="528.8" y1="586.0" x2="528.8" y2="634.0" stroke="#2a2a2a" stroke-width="0.80" />
<line x1="683.4" y1="586.0" x2="683.4" y2="634.0" stroke="#2a2a2a" stroke-width="0.80" />
<text x="591.3" y="588.6" font-size="14.5" fill="#111" text-anchor="start" textLength="44.0" lengthAdjust="spacingAndGlyphs" stroke="#111" stroke-width="0.25">134.00</text>
<line x1="553.3" y1="617.7" x2="659.8" y2="617.7" stroke="#2a2a2a" stroke-width="1.00" />
<path d="M553.9,617.7 L564.9,615.1 L564.9,620.3 Z" fill="#111"/>
<path d="M659.2,617.7 L648.2,620.3 L648.2,615.1 Z" fill="#111"/>
<line x1="553.9" y1="612.0" x2="553.9" y2="642.0" stroke="#2a2a2a" stroke-width="0.80" />
<line x1="659.2" y1="612.0" x2="659.2" y2="642.0" stroke="#2a2a2a" stroke-width="0.80" />
<text x="569.0" y="613.3" font-size="14.5" fill="#111" text-anchor="start" textLength="78.7" lengthAdjust="spacingAndGlyphs" stroke="#111" stroke-width="0.25">15.00 ± 1.50</text>
<line x1="691.0" y1="623.3" x2="722.0" y2="623.3" stroke="#2a2a2a" stroke-width="0.80" />
<line x1="659.0" y1="640.9" x2="722.0" y2="640.9" stroke="#2a2a2a" stroke-width="0.80" />
<line x1="719.6" y1="575.0" x2="719.6" y2="660.0" stroke="#2a2a2a" stroke-width="0.90" />
<path d="M719.6,623.3 L717.0,612.3 L722.2,612.3 Z" fill="#111"/>
<path d="M719.6,640.9 L722.2,651.9 L717.0,651.9 Z" fill="#111"/>
<text x="0" y="0" font-size="14.5" fill="#111" stroke="#111" stroke-width="0.25" text-anchor="middle" textLength="33.0" lengthAdjust="spacingAndGlyphs" transform="translate(716.0,593.0) rotate(-90.0)">15.00</text>
<line x1="501.5" y1="632.6" x2="501.5" y2="823.5" stroke="#2a2a2a" stroke-width="1.00" />
<path d="M501.5,632.6 L504.1,643.6 L498.9,643.6 Z" fill="#111"/>
<path d="M501.5,823.5 L498.9,812.5 L504.1,812.5 Z" fill="#111"/>
<line x1="497.0" y1="633.0" x2="529.0" y2="633.0" stroke="#2a2a2a" stroke-width="0.80" />
<line x1="497.0" y1="823.5" x2="514.0" y2="823.5" stroke="#2a2a2a" stroke-width="0.80" />
<text x="0" y="0" font-size="14.5" fill="#111" stroke="#111" stroke-width="0.25" text-anchor="middle" textLength="44.0" lengthAdjust="spacingAndGlyphs" transform="translate(498.0,728.0) rotate(-90.0)">166.50</text>
<line x1="490.0" y1="681.0" x2="567.0" y2="632.3" stroke="#2a2a2a" stroke-width="0.90" />
<path d="M542.4,648.0 L549.6,640.7 L552.2,644.7 Z" fill="#111"/>
<path d="M566.9,632.3 L559.7,639.6 L557.1,635.6 Z" fill="#111"/>
<text x="0" y="0" font-size="14.5" fill="#111" textLength="54" lengthAdjust="spacingAndGlyphs" transform="translate(494.5,675.5) rotate(-32.5)">2–M6.00</text>
<line x1="519.0" y1="765.9" x2="597.0" y2="765.9" stroke="#2a2a2a" stroke-width="0.80" />
<path d="M531.6,765.9 L520.6,768.5 L520.6,763.3 Z" fill="#111"/>
<path d="M551.0,765.9 L562.0,763.3 L562.0,768.5 Z" fill="#111"/>
<text x="562.6" y="763.7" font-size="14.5" fill="#111" text-anchor="start" textLength="34.4" lengthAdjust="spacingAndGlyphs" stroke="#111" stroke-width="0.25">16.00</text>
<line x1="519.0" y1="778.8" x2="601.0" y2="778.8" stroke="#2a2a2a" stroke-width="0.80" />
<path d="M535.2,778.8 L524.2,781.4 L524.2,776.2 Z" fill="#111"/>
<path d="M546.7,778.8 L557.7,776.2 L557.7,781.4 Z" fill="#111"/>
<text x="562.6" y="777.4" font-size="14.5" fill="#111" text-anchor="start" textLength="34.4" lengthAdjust="spacingAndGlyphs" stroke="#111" stroke-width="0.25">11.00</text>
<line x1="507.0" y1="798.3" x2="600.0" y2="798.3" stroke="#2a2a2a" stroke-width="0.80" />
<path d="M519.4,798.3 L508.4,800.9 L508.4,795.7 Z" fill="#111"/>
<path d="M556.8,798.3 L567.8,795.7 L567.8,800.9 Z" fill="#111"/>
<line x1="531.0" y1="766.0" x2="567.0" y2="797.5" stroke="#2a2a2a" stroke-width="0.80" />
<text x="566.9" y="796.1" font-size="14.5" fill="#111" text-anchor="start" textLength="34.5" lengthAdjust="spacingAndGlyphs" stroke="#111" stroke-width="0.25">25.00</text>
<line x1="540.3" y1="783.0" x2="540.3" y2="842.0" stroke="#2a2a2a" stroke-width="0.80" />
<line x1="540.3" y1="838.6" x2="671.8" y2="838.6" stroke="#2a2a2a" stroke-width="1.00" />
<path d="M540.3,838.6 L551.3,836.0 L551.3,841.2 Z" fill="#111"/>
<path d="M671.8,838.6 L660.8,841.2 L660.8,836.0 Z" fill="#111"/>
<text x="569.0" y="837.6" font-size="14.5" fill="#111" text-anchor="start" textLength="84.5" lengthAdjust="spacingAndGlyphs" stroke="#111" stroke-width="0.25">114.30 ± 0.11</text>
<line x1="514.4" y1="823.5" x2="514.4" y2="862.0" stroke="#2a2a2a" stroke-width="0.80" />
<line x1="514.4" y1="858.5" x2="698.5" y2="858.5" stroke="#2a2a2a" stroke-width="1.00" />
<path d="M514.4,858.5 L525.4,855.9 L525.4,861.1 Z" fill="#111"/>
<path d="M698.5,858.5 L687.5,861.1 L687.5,855.9 Z" fill="#111"/>
<text x="586.4" y="856.8" font-size="14.5" fill="#111" text-anchor="start" textLength="43.2" lengthAdjust="spacingAndGlyphs" stroke="#111" stroke-width="0.25">160.00</text>
<line x1="682.6" y1="790.0" x2="682.6" y2="853.0" stroke="#2a2a2a" stroke-width="0.80" />
<path d="M682.6,797.6 L685.0,806.6 L680.2,806.6 Z" fill="#111"/>
<path d="M682.6,823.5 L685.0,832.5 L680.2,832.5 Z" fill="#111"/>
<text x="0" y="0" font-size="14.5" fill="#111" stroke="#111" stroke-width="0.25" text-anchor="middle" textLength="28.0" lengthAdjust="spacingAndGlyphs" transform="translate(681.5,839.7) rotate(-90.0)">14.50</text>
<line x1="691.3" y1="740.0" x2="691.3" y2="810.0" stroke="#2a2a2a" stroke-width="0.80" />
<path d="M691.3,777.5 L688.9,768.5 L693.7,768.5 Z" fill="#111"/>
<path d="M691.3,789.7 L693.7,798.7 L688.9,798.7 Z" fill="#111"/>
<text x="0" y="0" font-size="14.5" fill="#111" stroke="#111" stroke-width="0.25" text-anchor="middle" textLength="23.8" lengthAdjust="spacingAndGlyphs" transform="translate(691.2,757.7) rotate(-90.0)">5.00</text>
<line x1="707.1" y1="745.0" x2="707.1" y2="815.0" stroke="#2a2a2a" stroke-width="0.80" />
<path d="M707.1,789.0 L704.7,780.0 L709.5,780.0 Z" fill="#111"/>
<path d="M707.1,804.8 L709.5,813.8 L704.7,813.8 Z" fill="#111"/>
<text x="0" y="0" font-size="14.5" fill="#111" stroke="#111" stroke-width="0.25" text-anchor="middle" textLength="28.8" lengthAdjust="spacingAndGlyphs" transform="translate(707.5,763.1) rotate(-90.0)">10.00</text>
<line x1="725.0" y1="765.0" x2="725.0" y2="825.0" stroke="#2a2a2a" stroke-width="0.80" />
<path d="M725.0,800.5 L722.6,791.5 L727.4,791.5 Z" fill="#111"/>
<path d="M725.0,807.7 L727.4,816.7 L722.6,816.7 Z" fill="#111"/>
<text x="0" y="0" font-size="14.5" fill="#111" stroke="#111" stroke-width="0.25" text-anchor="middle" textLength="22.3" lengthAdjust="spacingAndGlyphs" transform="translate(724.0,776.5) rotate(-90.0)">5.00</text>
<defs>
<linearGradient id="cylg" x1="0" y1="0" x2="0.22" y2="1"><stop offset="0" stop-color="#3a2826"/><stop offset="0.12" stop-color="#2c1d1d"/><stop offset="0.4" stop-color="#181112"/><stop offset="0.75" stop-color="#131011"/><stop offset="0.92" stop-color="#1c1515"/><stop offset="1" stop-color="#261b1b"/></linearGradient>
<radialGradient id="brass" cx="0.45" cy="0.4" r="0.7"><stop offset="0" stop-color="#d8a868"/><stop offset="0.55" stop-color="#9a7040"/><stop offset="1" stop-color="#4a3420"/></radialGradient>
<radialGradient id="silver" cx="0.4" cy="0.35" r="0.75"><stop offset="0" stop-color="#d8d8d8"/><stop offset="0.5" stop-color="#8a8a8a"/><stop offset="1" stop-color="#2a2a2a"/></radialGradient>
</defs>
<path d="M535.0,288.0 L557.6,285.9 L612.7,270.7 L667.9,258.3 L688.2,252.9 L707.4,254.8 L722.8,265.3 L734.3,282.6 L742.0,303.7 L745.8,326.7 L744.8,349.8 L738.1,369.0 L730.5,377.6 L719.0,384.3 L703.6,390.0 L657.6,400.0 L640.3,403.0 L599.0,415.5 L574.1,421.0 L545.0,425.0 Z" fill="url(#cylg)"/>
<path d="M700,262 C722,280 735,310 735,335 C735,355 726,372 712,382" fill="none" stroke="#1a1312" stroke-width="2"/>
<path d="M448.4,246.8 L456.8,244.3 L468.5,248.5 L483.6,249.3 L492.0,253.5 L498.8,265.3 L507.1,270.3 L518.9,275.3 L530.6,283.7 L535.7,287.0 L559.0,290.4 L575.8,329.0 L575.8,459.0 L589.6,472.9 L588.7,497.8 L574.3,507.4 L551.3,515.1 L532.1,499.8 L524.4,494.0 L520.6,482.5 L514.8,474.8 L503.3,463.3 L489.9,455.6 L482.2,456.6 L472.6,451.8 L458.2,438.4 L453.4,428.8 L452.5,400.0 L449.0,350.0 Z" fill="#151010"/>
<path d="M553.0,300.0 L559.0,290.4 L575.8,329.0 L575.8,459.0 L589.6,472.9 L588.7,497.8 L574.3,507.4 L566.0,485.0 L556.0,450.0 L551.0,330.0 Z" fill="#1f1616"/>
<path d="M515,276 L535,287 L559,290.4 L566,305 L545,300 L520,290 Z" fill="#2c2220"/>
<ellipse cx="503" cy="365" rx="50" ry="86" fill="none" stroke="#231a19" stroke-width="3" transform="rotate(-5 503 365)"/>
<ellipse cx="507" cy="371" rx="33" ry="56" fill="#0f0b0b" transform="rotate(-5 507 371)"/>
<ellipse cx="508" cy="371" rx="29" ry="50" fill="none" stroke="#352a29" stroke-width="3.5" transform="rotate(-5 508 371)"/>
<path d="M482,340 Q478,369 484,398" fill="none" stroke="#4a3c3a" stroke-width="2"/>
<ellipse cx="513" cy="372" rx="15" ry="28" fill="#1a1414" stroke="#2e2524" stroke-width="2" transform="rotate(-5 513 372)"/>
<ellipse cx="515" cy="368" rx="7" ry="12" fill="#0b0808" transform="rotate(-5 515 368)"/>
<path d="M498,371 L522,365 L523.5,370.5 L499.5,376.5 Z" fill="#5a4e4c"/>
<path d="M475,396 Q484,392 490,398 L489,428 Q481,431 475,426 Z" fill="#4e3f3d"/>
<path d="M466,262 L478,284" stroke="#3a302e" stroke-width="1.6"/>
<path d="M473,300 L490,330" stroke="#2e2524" stroke-width="1.6"/>
<path d="M527,296 L540,330" stroke="#2e2524" stroke-width="1.6"/>
<path d="M470,420 L457,440" stroke="#2a2120" stroke-width="2"/>
<path d="M512,420 L520,470" stroke="#2a2120" stroke-width="2"/>
<path d="M535,410 L552,455" stroke="#2a2120" stroke-width="2"/>
<path d="M540,320 L548,420" stroke="#241c1b" stroke-width="2"/>
<circle cx="628.8" cy="318.1" r="10" fill="#4a4240"/>
<circle cx="628.8" cy="318.1" r="7.5" fill="#8a8280"/>
<circle cx="628.8" cy="318.1" r="3.5" fill="#5a5250"/>
<circle cx="703.6" cy="330.6" r="10" fill="url(#silver)"/>
<path d="M708,323 L718,322 L724,331 L718,340 L708,340 Z" fill="url(#brass)"/>
<circle cx="581" cy="367" r="10" fill="url(#silver)"/>
<path d="M586,358.5 L597,358 L601.7,367.5 L597,377 L586,376.5 Z" fill="url(#brass)"/>
<circle cx="703.6" cy="373.7" r="8" fill="url(#brass)" opacity="0.8"/>
<circle cx="697.8" cy="278.8" r="4.5" fill="#0e0a0a"/>
<circle cx="697.8" cy="278.8" r="1.6" fill="#8a8280"/>
<path d="M583,412 L594,407 L600,428 L590,434 Z" fill="url(#brass)"/>
<ellipse cx="584.5" cy="406" rx="7" ry="5" fill="#5a5250"/>
</svg></body></html>
